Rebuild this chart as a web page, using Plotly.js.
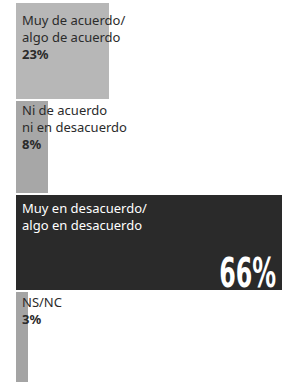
<!DOCTYPE html>
<html>
<head>
<meta charset="utf-8">
<script src="https://cdn.plot.ly/plotly-3.0.1.min.js"></script>
<style>
  html, body { margin: 0; padding: 0; background: #ffffff; }
  #chart { width: 286px; height: 382px; }
</style>
</head>
<body>
<div id="chart"></div>
<script>
// ---- data ----
const categories = ["Muy de acuerdo/ algo de acuerdo", "Ni de acuerdo ni en desacuerdo", "Muy en desacuerdo/ algo en desacuerdo", "NS/NC"];
const labelLines = [["Muy de acuerdo/", "algo de acuerdo"], ["Ni de acuerdo", "ni en desacuerdo"], ["Muy en desacuerdo/", "algo en desacuerdo"], ["NS/NC"]];
const values = [23, 8, 66, 3];
const valueLabels = ["23%", "8%", "66%", "3%"];

// ---- styles ----
const barColors = ["#b7b7b7", "#a7a7a7", "#2a2a2a", "#a4a4a4"];
const textColors = ["#2b2b2b", "#2b2b2b", "#ffffff", "#2b2b2b"];
const barWidths = [1.01, 0.96, 0.99, 0.98];
const firstBaseline = [22, 14, 17, 15];
const plotH = 379, yRange = [3.45, -0.5];
const bandPx = plotH / (yRange[0] - yRange[1]);

const trace = {
  type: "bar",
  orientation: "h",
  x: values,
  y: categories,
  marker: { color: barColors, line: { width: 0 } },
  width: barWidths,
  hoverinfo: "skip",
  showlegend: false
};

const annotations = [];
const bigIdx = values.indexOf(Math.max(...values));
categories.forEach((c, i) => {
  const barTop = -barWidths[i] * bandPx / 2;
  let txt = labelLines[i].join("<br>");
  if (i !== bigIdx) txt += "<br><b>" + valueLabels[i] + "</b>";
  annotations.push({
    x: 0, y: c, xref: "x", yref: "y",
    xanchor: "left", yanchor: "top",
    xshift: 4, yshift: -(barTop + firstBaseline[i] - 15.5),
    text: txt, showarrow: false, align: "left",
    font: { family: "Noto Sans, Open Sans, sans-serif", size: 13, color: textColors[i] }
  });
});
annotations.push({
  x: values[bigIdx], y: categories[bigIdx], xref: "x", yref: "y",
  xanchor: "right", yanchor: "middle",
  xshift: -4, yshift: -30,
  text: "<b>" + valueLabels[bigIdx] + "</b>", showarrow: false, align: "right",
  font: { family: "DejaVu Sans, sans-serif", size: 41, color: "#ffffff" }
});

const layout = {
  width: 286, height: 382,
  margin: { l: 16, r: 4, t: 3, b: 0, pad: 0 },
  paper_bgcolor: "#ffffff",
  plot_bgcolor: "#ffffff",
  bargap: 0,
  xaxis: { range: [0, 66], visible: false, fixedrange: true },
  yaxis: { type: "category", range: yRange, visible: false, fixedrange: true },
  annotations: annotations,
  showlegend: false
};

Plotly.newPlot("chart", [trace], layout, { displayModeBar: false, staticPlot: true }).then(() => {
  // condense the large percentage horizontally (narrow display type in the reference)
  document.querySelectorAll("#chart text.annotation-text").forEach(t => {
    if (t.textContent === valueLabels[bigIdx]) {
      const bb = t.getBBox();
      const s = 57 / bb.width;
      const right = bb.x + bb.width;
      t.setAttribute("transform", "translate(" + (right * (1 - s)) + ",0) scale(" + s + ",1)");
    }
  });
});
</script>
</body>
</html>
